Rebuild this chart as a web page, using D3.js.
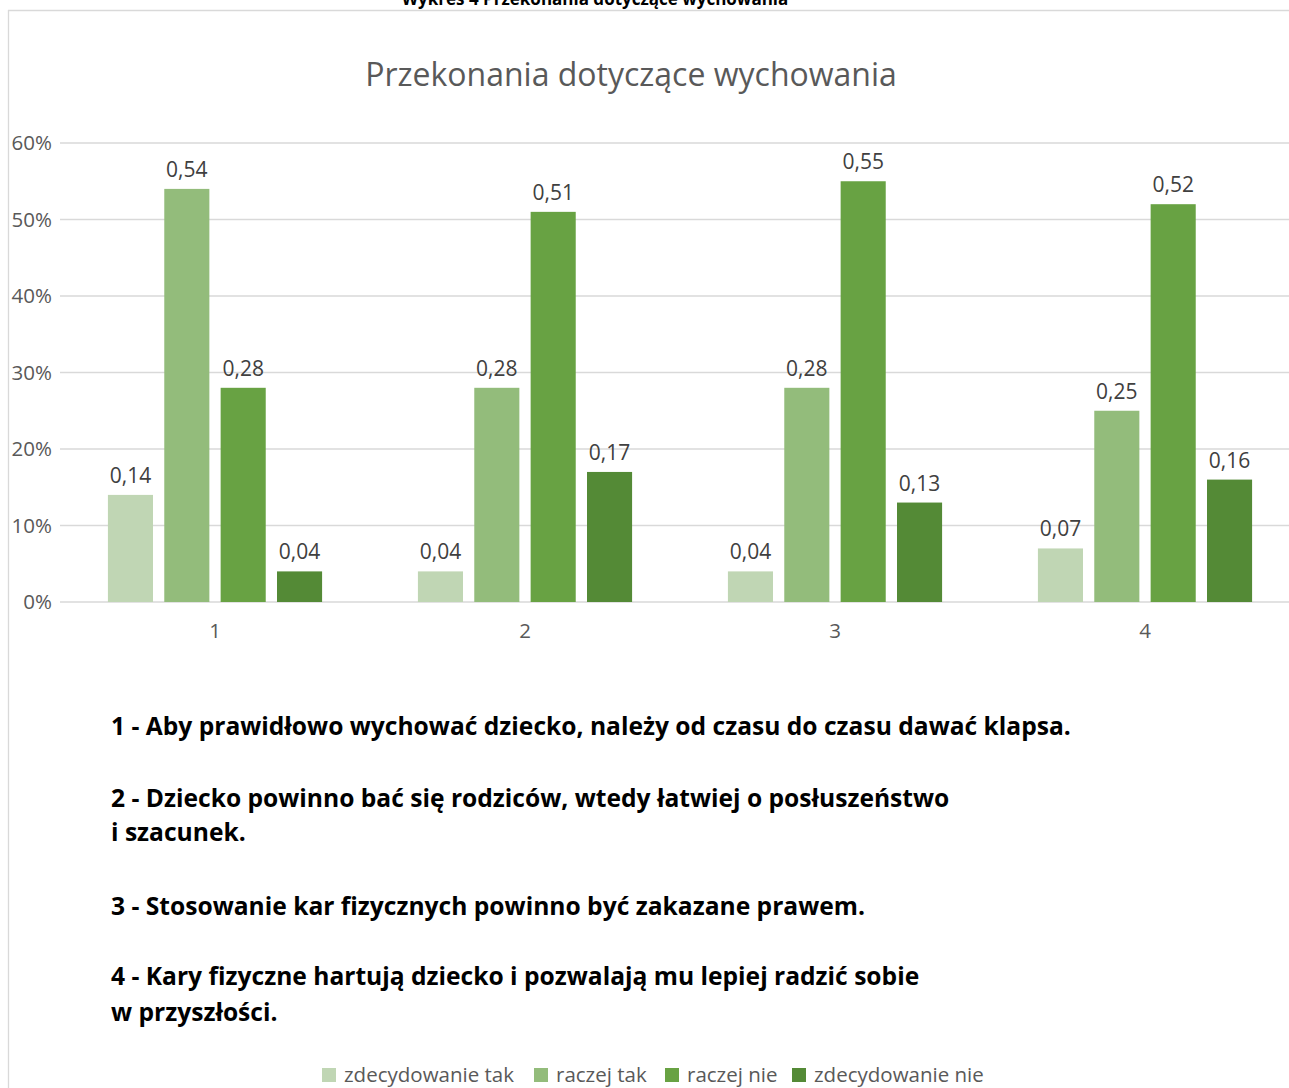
<!DOCTYPE html>
<html>
<head>
  <script src="https://d3js.org/d3.v7.min.js"></script>
  <style>
    body { margin: 0; background: #ffffff; overflow: hidden; }
    svg { display: block; font-family: 'Open Sans', sans-serif; }
    .grid line { stroke: #d9d9d9; stroke-width: 1.3px; }
    .tick-label { fill: #595959; font-size: 20.5px; }
    .value-label { fill: #404040; font-size: 21px; }
    .note { fill: #000; font-size: 24.6px; font-weight: bold; }
  </style>
</head>
<body>
<script>
// Chart data
const categories = ["1", "2", "3", "4"];
const seriesNames = ["zdecydowanie tak", "raczej tak", "raczej nie", "zdecydowanie nie"];
const seriesColors = ["#c0d6b4", "#93bc7b", "#68a243", "#548a36"];
const values = [
  [0.14, 0.54, 0.28, 0.04],
  [0.04, 0.28, 0.51, 0.17],
  [0.04, 0.28, 0.55, 0.13],
  [0.07, 0.25, 0.52, 0.16]
];
const yTicks = [0, 0.1, 0.2, 0.3, 0.4, 0.5, 0.6];
const notes = [
  "1 - Aby prawidłowo wychować dziecko, należy od czasu do czasu dawać klapsa.",
  "2 - Dziecko powinno bać się rodziców, wtedy łatwiej o posłuszeństwo",
  "i szacunek.",
  "3 - Stosowanie kar fizycznych powinno być zakazane prawem.",
  "4 - Kary fizyczne hartują dziecko i pozwalają mu lepiej radzić sobie",
  "w przyszłości."
];
const noteY = [735, 807, 841, 915, 985, 1021];

const width = 1289, height = 1088;

const svg = d3.select("body").append("svg")
  .attr("width", width)
  .attr("height", height);

// frame of the chart area
svg.append("line").attr("x1", 8.5).attr("x2", 8.5).attr("y1", 10).attr("y2", height)
  .attr("stroke", "#d9d9d9").attr("stroke-width", 1.3);
svg.append("line").attr("x1", 8).attr("x2", width).attr("y1", 10.5).attr("y2", 10.5)
  .attr("stroke", "#d9d9d9").attr("stroke-width", 1.3);

// caption above the chart, cut off by the page edge in the original
svg.append("text")
  .attr("x", 595).attr("y", 5)
  .attr("text-anchor", "middle")
  .attr("font-size", 17).attr("font-weight", "bold").attr("fill", "#000")
  .text("Wykres 4 Przekonania dotyczące wychowania");

// title
svg.append("text")
  .attr("x", 631).attr("y", 86)
  .attr("text-anchor", "middle")
  .attr("font-size", 32).attr("fill", "#595959")
  .text("Przekonania dotyczące wychowania");

const x = d3.scaleBand().domain(categories).range([60, 1300]);
const y = d3.scaleLinear().domain([0, 0.6]).range([602, 143]);

const x1 = d3.scaleBand().domain(d3.range(seriesNames.length))
  .range([0, x.bandwidth()]).paddingInner(0.2).paddingOuter(0.85);

// gridlines
svg.append("g").attr("class", "grid")
  .selectAll("line").data(yTicks).join("line")
  .attr("x1", 60).attr("x2", width)
  .attr("y1", d => y(d)).attr("y2", d => y(d));

// y tick labels
svg.append("g").selectAll("text").data(yTicks).join("text")
  .attr("class", "tick-label")
  .attr("x", 52).attr("y", d => y(d) + 7)
  .attr("text-anchor", "end")
  .text(d => Math.round(d * 100) + "%");

// x tick labels
svg.append("g").selectAll("text").data(categories).join("text")
  .attr("class", "tick-label")
  .attr("x", d => x(d) + x.bandwidth() / 2).attr("y", 638)
  .attr("text-anchor", "middle")
  .text(d => d);

// bars
const fmt = v => v.toFixed(2).replace(".", ",");
const groups = svg.append("g").selectAll("g").data(categories).join("g")
  .attr("transform", d => `translate(${x(d)},0)`);

groups.selectAll("rect")
  .data((d, i) => values[i].map((v, s) => ({ v, s })))
  .join("rect")
  .attr("x", d => x1(d.s))
  .attr("width", x1.bandwidth())
  .attr("y", d => y(d.v))
  .attr("height", d => y(0) - y(d.v))
  .attr("fill", d => seriesColors[d.s]);

groups.selectAll("text")
  .data((d, i) => values[i].map((v, s) => ({ v, s })))
  .join("text")
  .attr("class", "value-label")
  .attr("x", d => x1(d.s) + x1.bandwidth() / 2)
  .attr("y", d => y(d.v) - 12)
  .attr("text-anchor", "middle")
  .text(d => fmt(d.v));

// explanatory notes
svg.append("g").selectAll("text").data(notes).join("text")
  .attr("class", "note")
  .attr("x", 111).attr("y", (d, i) => noteY[i])
  .text(d => d);

// legend
const legendX = [322, 534, 665, 792];
const legend = svg.append("g").selectAll("g").data(seriesNames).join("g")
  .attr("transform", (d, i) => `translate(${legendX[i]},1068)`);
legend.append("rect").attr("width", 14).attr("height", 14)
  .attr("fill", (d, i) => seriesColors[i]);
legend.append("text")
  .attr("x", 22).attr("y", 14)
  .attr("font-size", 20.5).attr("fill", "#595959")
  .text(d => d);
</script>
</body>
</html>
